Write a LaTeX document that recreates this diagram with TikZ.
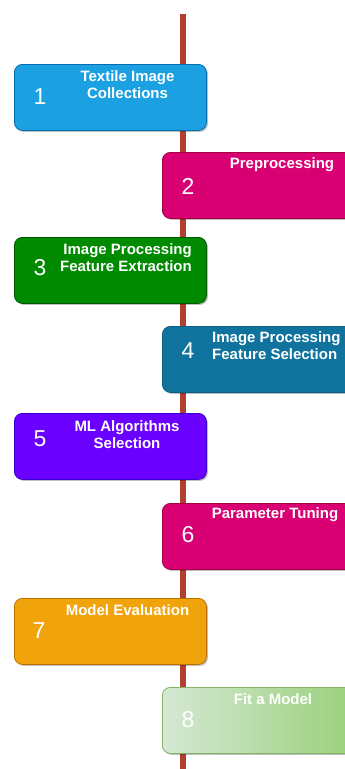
\documentclass[tikz,border=0pt]{standalone}
\usepackage{fontspec}
\setmainfont{Liberation Sans}
\usetikzlibrary{shadows}
\definecolor{linecol}{HTML}{B0402F}
\definecolor{c1}{HTML}{1BA1E2}\definecolor{d1}{HTML}{006EAF}
\definecolor{c2}{HTML}{D80073}\definecolor{d2}{HTML}{A50040}
\definecolor{c3}{HTML}{008A00}\definecolor{d3}{HTML}{005700}
\definecolor{c4}{HTML}{10739E}\definecolor{d4}{HTML}{0E5E82}
\definecolor{c5}{HTML}{6A00FF}\definecolor{d5}{HTML}{3700CC}
\definecolor{c7}{HTML}{F0A30A}\definecolor{d7}{HTML}{BD7000}
\definecolor{c8a}{HTML}{D5E8D4}\definecolor{c8b}{HTML}{97D077}\definecolor{d8}{HTML}{82B366}
\begin{document}
\begin{tikzpicture}[x=1pt,y=-1pt,
  box/.style={rectangle, rounded corners=8pt, line width=0.8pt, inner sep=0pt,
    minimum height=66pt, anchor=north west,
    drop shadow={shadow xshift=1.5pt, shadow yshift=-1.5pt, opacity=0.25, fill=black}},
  lbox/.style={box, minimum width=192pt},
  rbox/.style={box, minimum width=200pt},
  ttl/.style={text=white, inner sep=0pt, font=\bfseries\fontsize{15}{17}\selectfont},
  num/.style={text=white, inner sep=0pt, font=\fontsize{23}{23}\selectfont}]
\useasboundingbox (0,0) rectangle (345,769);
\clip (0,0) rectangle (345,769);
\fill[white] (0,0) rectangle (345,769);
\coordinate (ltop) at (183,14);
\coordinate (lbot) at (183,769);
\draw[line width=6.5pt, linecol] (ltop) -- (lbot);
% box 1
\node[lbox, fill=c1, draw=d1] (b1) at (14,64) {};
\node[num] (n1) at (40,97) {1};
\node[ttl, align=center] (t1) at (127.5,84.5) {Textile Image\\Collections};
% box 2
\node[rbox, fill=c2, draw=d2] (b2) at (162,152) {};
\node[num] (n2) at (188,186) {2};
\node[ttl] (t2) at (282,165) {Preprocessing};
% box 3
\node[lbox, fill=c3, draw=d3] (b3) at (14,237) {};
\node[num] (n3) at (40,268) {3};
\node[ttl, align=right, anchor=east] (t3) at (192,257.5) {Image Processing\\Feature Extraction};
% box 4
\node[rbox, fill=c4, draw=d4] (b4) at (162,326) {};
\node[num] (n4) at (188,351) {4};
\node[ttl, align=left, anchor=west] (t4) at (212,345.5) {Image Processing\\Feature Selection};
% box 5
\node[lbox, fill=c5, draw=d5] (b5) at (14,413) {};
\node[num] (n5) at (40,439) {5};
\node[ttl, align=center] (t5) at (127,434.5) {ML Algorithms\\Selection};
% box 6
\node[rbox, fill=c2, draw=d2] (b6) at (162,503) {};
\node[num] (n6) at (188,535) {6};
\node[ttl] (t6) at (275,515) {Parameter Tuning};
% box 7
\node[lbox, fill=c7, draw=d7] (b7) at (14,598) {};
\node[num] (n7) at (39,631) {7};
\node[ttl] (t7) at (127.5,610) {Model Evaluation};
% box 8
\node[rbox, left color=c8a, right color=c8b, draw=d8] (b8) at (162,687) {};
\node[num] (n8) at (188,720) {8};
\node[ttl] (t8) at (273,699) {Fit a Model};
\end{tikzpicture}
\end{document}
